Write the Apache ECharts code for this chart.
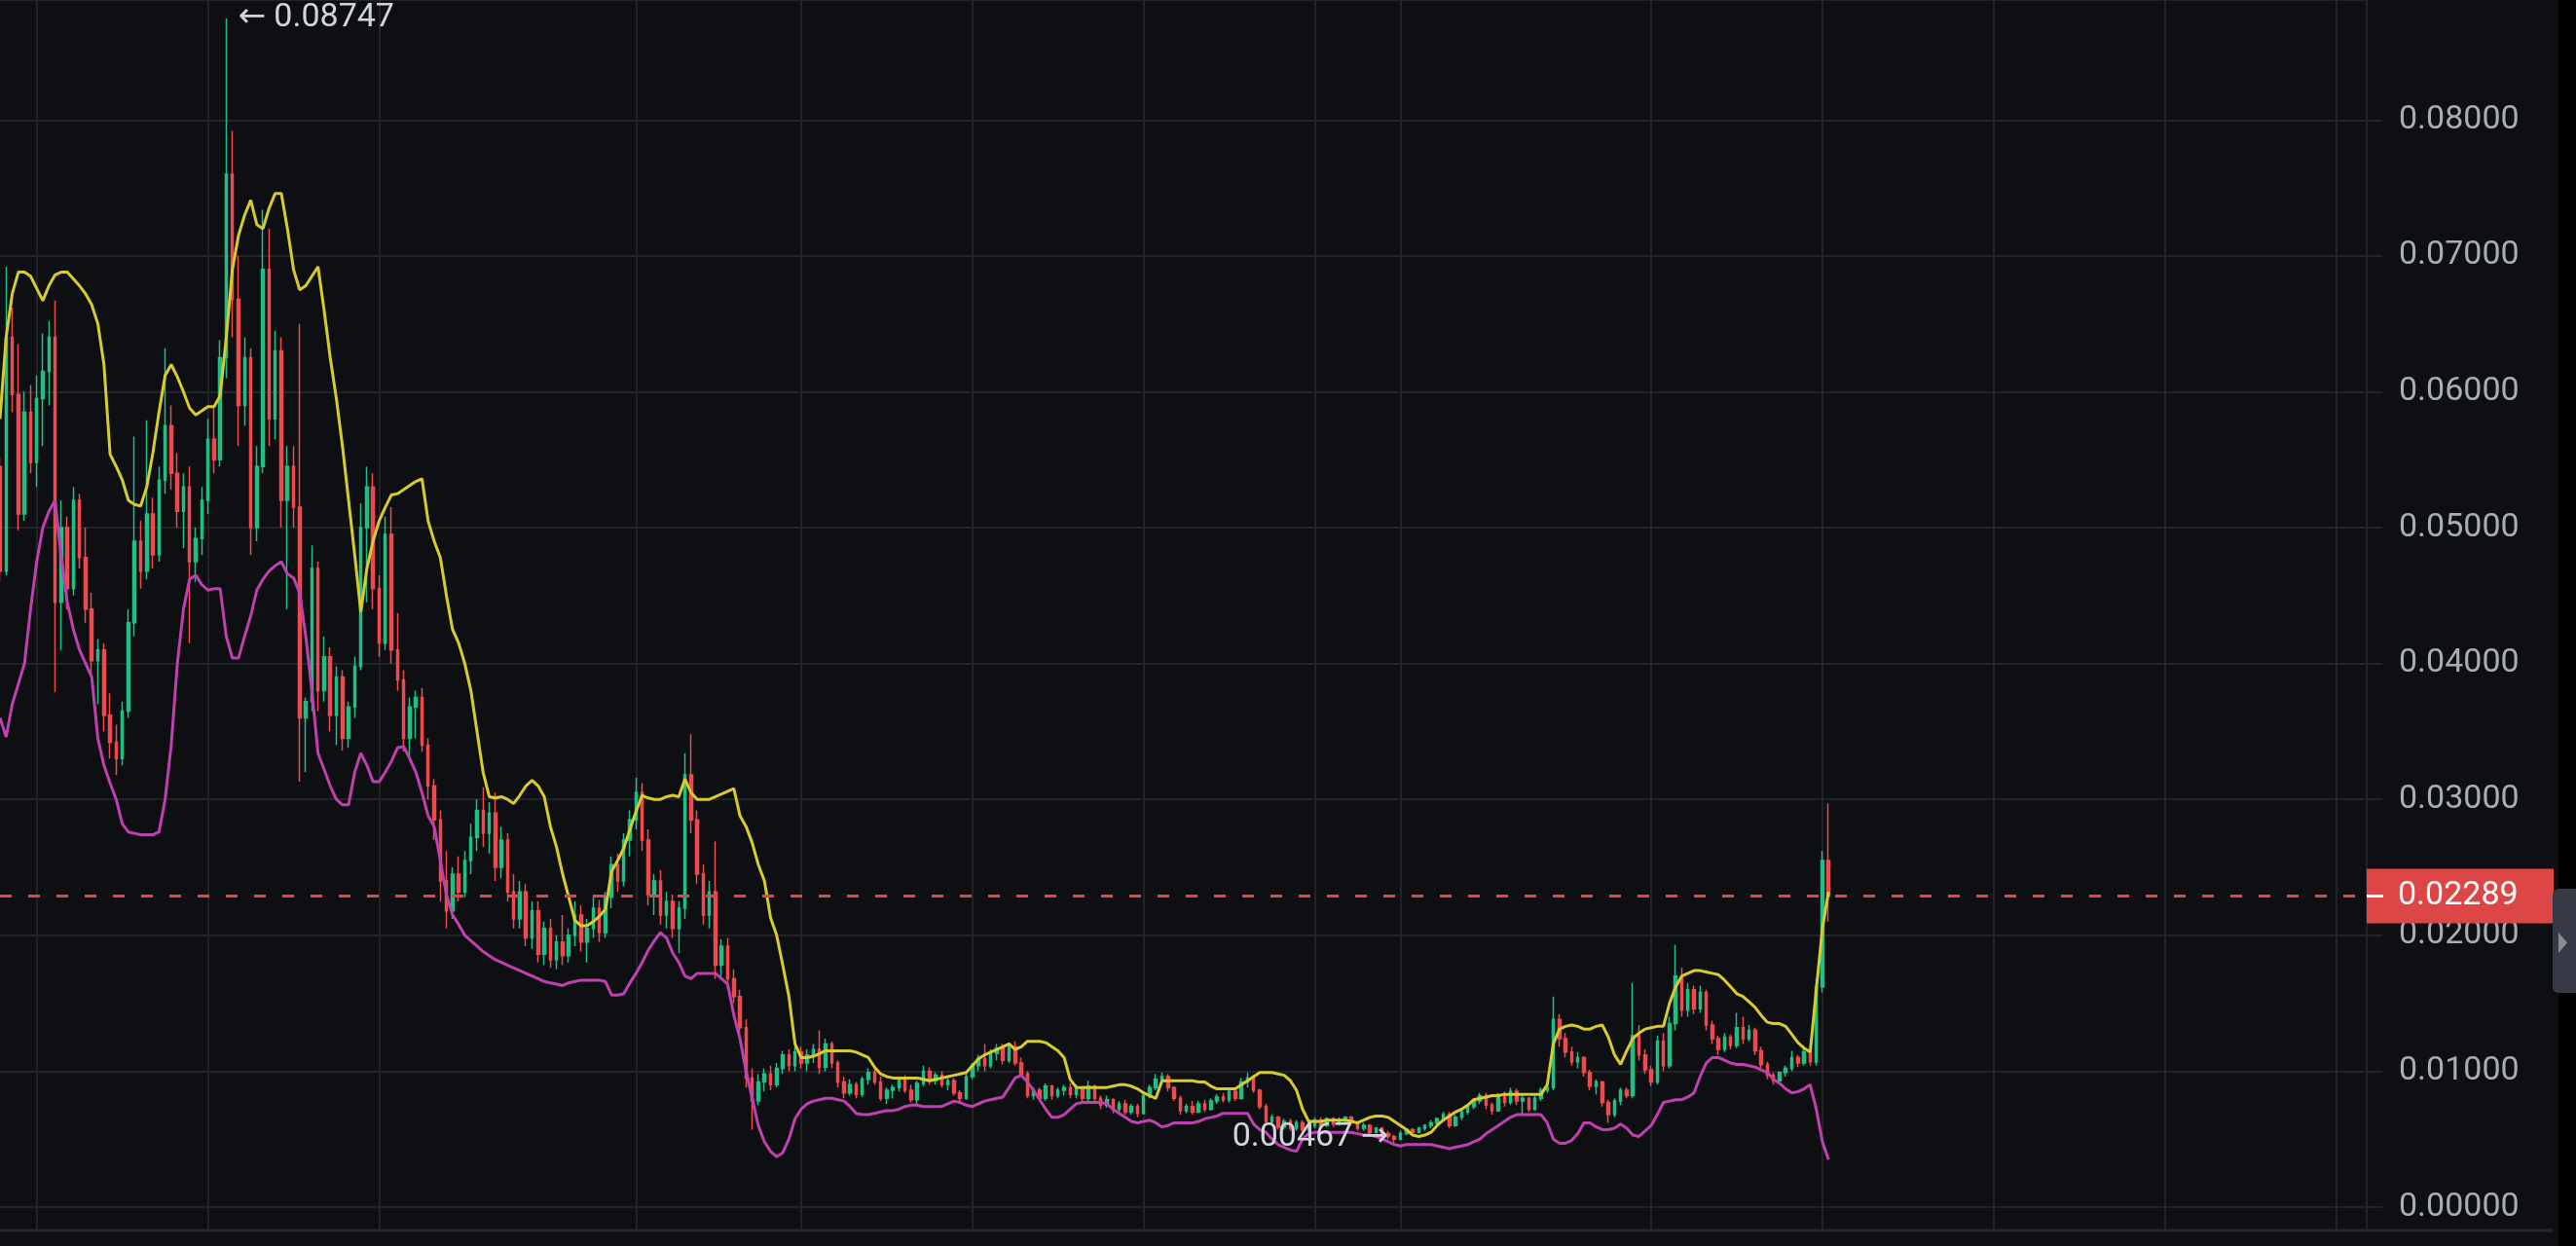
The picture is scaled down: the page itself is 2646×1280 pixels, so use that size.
<!DOCTYPE html>
<html><head><meta charset="utf-8">
<script src="https://cdn.jsdelivr.net/npm/echarts@6/dist/echarts.min.js"></script>
<style>html,body{margin:0;padding:0;background:#0e0f12;overflow:hidden}#c{width:2646px;height:1280px}</style>
</head><body><div id="c"></div><script>
// ---- data (price in quote units) ----
const open = [
.0545,.0468,.0640,.0598,.0510,.0585,.0548,.0595,.0615,.0640,
.0445,.0500,.0455,.0520,.0478,.0440,.0402,.0410,.0362,.0342,
.0330,.0365,.0430,.0490,.0468,.0510,.0480,.0535,.0575,.0540,
.0512,.0530,.0475,.0492,.0520,.0565,.0550,.0625,.0760,.0668,
.0590,.0625,.0500,.0545,.0690,.0580,.0630,.0520,.0545,.0515,
.0360,.0372,.0470,.0380,.0405,.0362,.0390,.0345,.0368,.0398,
.0500,.0530,.0455,.0415,.0495,.0410,.0388,.0345,.0368,.0375,
.0340,.0310,.0285,.0240,.0218,.0245,.0232,.0255,.0272,.0292,
.0275,.0290,.0250,.0270,.0232,.0212,.0232,.0198,.0218,.0186,
.0205,.0182,.0195,.0185,.0200,.0215,.0195,.0205,.0220,.0202,
.0228,.0252,.0240,.0270,.0285,.0305,.0270,.0230,.0240,.0215,
.0225,.0205,.0220,.0318,.0285,.0245,.0215,.0232,.0178,.0192,
.0168,.0155,.0132,.0095,.0078,.0092,.0098,.0090,.0102,.0112,
.0104,.0114,.0106,.0112,.0116,.0103,.0120,.0106,.0092,.0084,
.0090,.0083,.0094,.0099,.0092,.0080,.0086,.0088,.0094,.0086,
.0079,.0091,.0100,.0093,.0097,.0090,.0093,.0084,.0080,.0096,
.0104,.0109,.0104,.0113,.0117,.0108,.0118,.0106,.0098,.0082,
.0086,.0080,.0089,.0082,.0086,.0088,.0083,.0087,.0080,.0089,
.0080,.0075,.0079,.0072,.0076,.0070,.0074,.0069,.0082,.0088,
.0094,.0096,.0088,.0080,.0071,.0074,.0070,.0076,.0072,.0078,
.0081,.0079,.0085,.0080,.0092,.0095,.0086,.0074,.0063,.0066,
.0059,.0063,.0058,.0062,.0057,.0060,.0064,.0060,.0065,.0061,
.0064,.0066,.0062,.0058,.0060,.0055,.0058,.0054,.0052,.0050,
.0054,.0057,.0055,.0058,.0060,.0062,.0065,.0068,.0060,.0066,
.0070,.0074,.0078,.0082,.0075,.0071,.0082,.0077,.0085,.0078,
.0080,.0072,.0080,.0086,.0088,.0138,.0124,.0114,.0107,.0110,
.0099,.0089,.0092,.0077,.0068,.0078,.0086,.0082,.0126,.0112,
.0101,.0092,.0122,.0104,.0135,.0170,.0145,.0160,.0146,.0158,
.0134,.0124,.0116,.0125,.0119,.0132,.0124,.0130,.0115,.0105,
.0097,.0093,.0099,.0102,.0110,.0106,.0114,.0107,.0162,.0255];
const high = [
.0552,.0692,.0662,.0635,.0600,.0605,.0612,.0643,.0652,.0667,
.0520,.0508,.0530,.0525,.0500,.0452,.0418,.0415,.0378,.0355,
.0372,.0440,.0567,.0505,.0579,.0522,.0545,.0632,.0590,.0555,
.0540,.0545,.0500,.0530,.0580,.0590,.0638,.08747,.0792,.0700,
.0640,.0632,.0560,.0734,.0720,.0645,.0640,.0560,.0560,.0650,
.0375,.0487,.0475,.0420,.0412,.0398,.0395,.0372,.0405,.0518,
.0545,.0540,.0465,.0508,.0515,.0437,.0395,.0375,.0380,.0382,
.0345,.0315,.0292,.0262,.0250,.0258,.0262,.0282,.0300,.0309,
.0298,.0305,.0280,.0275,.0245,.0240,.0238,.0225,.0225,.0210,
.0212,.0200,.0215,.0205,.0225,.0222,.0212,.0228,.0226,.0232,
.0258,.0260,.0275,.0292,.0316,.0312,.0278,.0245,.0248,.0232,
.0230,.0225,.0334,.0348,.0292,.0252,.0240,.0269,.0197,.0198,
.0175,.0160,.0138,.0102,.0098,.0102,.0104,.0106,.0115,.0116,
.0118,.0118,.0116,.0120,.0130,.0124,.0122,.0108,.0096,.0094,
.0092,.0096,.0102,.0104,.0096,.0088,.0090,.0096,.0097,.0090,
.0093,.0104,.0103,.0099,.0100,.0095,.0095,.0086,.0098,.0106,
.0112,.0120,.0116,.0120,.0120,.0121,.0122,.0110,.0100,.0088,
.0088,.0091,.0090,.0088,.0090,.0091,.0090,.0089,.0093,.0090,
.0082,.0082,.0080,.0078,.0079,.0076,.0076,.0084,.0090,.0098,
.0099,.0098,.0089,.0082,.0076,.0078,.0078,.0079,.0080,.0083,
.0084,.0087,.0086,.0095,.0099,.0097,.0087,.0076,.0068,.0067,
.0065,.0065,.0064,.0064,.0062,.0066,.0066,.0066,.0066,.0066,
.0067,.0067,.0063,.0062,.0061,.0059,.0059,.0056,.0053,.0056,
.0058,.0058,.0059,.0061,.0064,.0066,.0070,.0070,.0068,.0072,
.0076,.0080,.0084,.0084,.0077,.0084,.0085,.0088,.0087,.0082,
.0081,.0082,.0088,.0090,.0155,.0142,.0128,.0118,.0114,.0111,
.0101,.0094,.0093,.0079,.0080,.0088,.0088,.0165,.0134,.0116,
.0104,.0126,.0128,.0140,.0193,.0176,.0165,.0163,.0163,.0160,
.0137,.0126,.0128,.0127,.0143,.0140,.0134,.0132,.0118,.0107,
.0099,.0100,.0104,.0115,.0112,.0119,.0116,.0168,.0262,.0297];
const low = [
.0460,.0465,.0585,.0498,.0505,.0540,.0530,.0560,.0590,.0379,
.0410,.0440,.0450,.0470,.0430,.0390,.0370,.0350,.0330,.0318,
.0325,.0360,.0420,.0455,.0462,.0470,.0475,.0525,.0528,.0500,
.0485,.0415,.0460,.0480,.0510,.0540,.0545,.0610,.0640,.0560,
.0575,.0480,.0490,.0540,.0560,.0565,.0500,.0440,.0500,.0313,
.0320,.0365,.0365,.0372,.0350,.0340,.0336,.0338,.0360,.0395,
.0445,.0440,.0405,.0410,.0400,.0380,.0335,.0330,.0345,.0335,
.0300,.0270,.0225,.0205,.0212,.0225,.0228,.0245,.0262,.0265,
.0260,.0240,.0242,.0225,.0205,.0205,.0192,.0190,.0180,.0178,
.0176,.0175,.0178,.0180,.0192,.0188,.0180,.0198,.0195,.0198,
.0220,.0232,.0236,.0258,.0278,.0262,.0222,.0215,.0208,.0205,
.0198,.0187,.0212,.0275,.0238,.0208,.0205,.0168,.0168,.0160,
.0150,.0125,.0088,.0057,.0075,.0085,.0086,.0088,.0098,.0100,
.0100,.0102,.0100,.0106,.0098,.0100,.0102,.0088,.0080,.0082,
.0080,.0081,.0090,.0090,.0078,.0076,.0080,.0085,.0084,.0077,
.0076,.0089,.0090,.0090,.0088,.0086,.0082,.0076,.0079,.0094,
.0100,.0100,.0102,.0108,.0105,.0106,.0104,.0096,.0080,.0079,
.0078,.0078,.0079,.0080,.0082,.0080,.0080,.0078,.0078,.0078,
.0072,.0073,.0069,.0070,.0068,.0068,.0066,.0068,.0080,.0086,
.0090,.0085,.0078,.0068,.0069,.0068,.0069,.0070,.0071,.0076,
.0077,.0077,.0078,.0079,.0088,.0084,.0072,.0060,.0060,.0057,
.0057,.0056,.0056,.0055,.0054,.0058,.0058,.0059,.0059,.0060,
.0062,.0060,.0056,.0056,.0053,.0054,.0052,.0050,.00467,.0049,
.0053,.0053,.0054,.0056,.0058,.0060,.0063,.0058,.0059,.0064,
.0068,.0072,.0076,.0072,.0068,.0070,.0074,.0075,.0075,.0068,
.0070,.0071,.0078,.0084,.0086,.0118,.0110,.0104,.0102,.0096,
.0086,.0083,.0074,.0062,.0066,.0075,.0080,.0080,.0108,.0098,
.0089,.0090,.0100,.0102,.0130,.0140,.0140,.0142,.0143,.0130,
.0120,.0112,.0114,.0116,.0117,.0120,.0122,.0112,.0102,.0094,
.0090,.0092,.0096,.0100,.0103,.0104,.0104,.0104,.0158,.0210];
const close = [
.0468,.0640,.0598,.0510,.0585,.0548,.0595,.0615,.0640,.0445,
.0500,.0455,.0520,.0478,.0440,.0402,.0410,.0362,.0342,.0330,
.0365,.0430,.0490,.0468,.0510,.0480,.0535,.0575,.0540,.0512,
.0530,.0475,.0492,.0520,.0565,.0550,.0625,.0760,.0668,.0590,
.0625,.0500,.0545,.0690,.0580,.0630,.0520,.0545,.0515,.0360,
.0372,.0470,.0380,.0405,.0362,.0390,.0345,.0368,.0398,.0500,
.0530,.0455,.0415,.0495,.0410,.0388,.0345,.0368,.0375,.0340,
.0310,.0285,.0240,.0218,.0245,.0232,.0255,.0272,.0292,.0275,
.0290,.0250,.0270,.0232,.0212,.0232,.0198,.0218,.0186,.0205,
.0182,.0195,.0185,.0200,.0215,.0195,.0205,.0220,.0202,.0228,
.0252,.0240,.0270,.0285,.0305,.0270,.0230,.0240,.0215,.0225,
.0205,.0220,.0318,.0285,.0245,.0215,.0232,.0178,.0192,.0168,
.0155,.0132,.0095,.0078,.0092,.0098,.0090,.0102,.0112,.0104,
.0114,.0106,.0112,.0116,.0103,.0120,.0106,.0092,.0084,.0090,
.0083,.0094,.0099,.0092,.0080,.0086,.0088,.0094,.0086,.0079,
.0091,.0100,.0093,.0097,.0090,.0093,.0084,.0080,.0096,.0104,
.0109,.0104,.0113,.0117,.0108,.0118,.0106,.0098,.0082,.0086,
.0080,.0089,.0082,.0086,.0088,.0083,.0087,.0080,.0089,.0080,
.0075,.0079,.0072,.0076,.0070,.0074,.0069,.0082,.0088,.0094,
.0096,.0088,.0080,.0071,.0074,.0070,.0076,.0072,.0078,.0081,
.0079,.0085,.0080,.0092,.0095,.0086,.0074,.0063,.0066,.0059,
.0063,.0058,.0062,.0057,.0060,.0064,.0060,.0065,.0061,.0064,
.0066,.0062,.0058,.0060,.0055,.0058,.0054,.0052,.0050,.0054,
.0057,.0055,.0058,.0060,.0062,.0065,.0068,.0060,.0066,.0070,
.0074,.0078,.0082,.0075,.0071,.0082,.0077,.0085,.0078,.0080,
.0072,.0080,.0086,.0088,.0138,.0124,.0114,.0107,.0110,.0099,
.0089,.0092,.0077,.0068,.0078,.0086,.0082,.0126,.0112,.0101,
.0092,.0122,.0104,.0135,.0170,.0145,.0160,.0146,.0158,.0134,
.0124,.0116,.0125,.0119,.0132,.0124,.0130,.0115,.0105,.0097,
.0093,.0099,.0102,.0110,.0106,.0114,.0107,.0162,.0255,.02289];
const upperBand = [
.0580,.0640,.0672,.0688,.0688,.0685,.0676,.0667,.0678,.0686,
.0688,.0688,.0683,.0678,.0672,.0664,.0650,.0620,.0554,.0545,
.0535,.0520,.0517,.0516,.0530,.0555,.0585,.0612,.0620,.0611,
.0600,.0588,.0583,.0586,.0589,.0589,.0597,.0640,.0690,.0715,
.0730,.0741,.0723,.0720,.0735,.0746,.0746,.0720,.0690,.0675,
.0678,.0685,.0692,.0660,.0625,.0595,.0560,.0520,.0480,.0438,
.0470,.0490,.0505,.0515,.0524,.0525,.0528,.0531,.0534,.0536,
.0505,.0490,.0478,.0450,.0425,.0415,.0400,.0380,.0350,.0320,
.0302,.0301,.0302,.0300,.0297,.0303,.0310,.0314,.0310,.0302,
.0280,.0265,.0245,.0228,.0211,.0207,.0207,.0210,.0214,.0219,
.0247,.0255,.0264,.0278,.0291,.0303,.0301,.0300,.0300,.0302,
.0303,.0302,.0315,.0305,.0300,.0300,.0300,.0302,.0304,.0306,
.0308,.0288,.0280,.0268,.0252,.0240,.0213,.0200,.0178,.0155,
.0120,.0110,.0110,.0111,.0113,.0115,.0115,.0115,.0115,.0115,
.0114,.0112,.0110,.0103,.0098,.0096,.0095,.0095,.0095,.0095,
.0095,.0094,.0093,.0094,.0095,.0096,.0097,.0098,.0099,.0104,
.0109,.0112,.0114,.0116,.0118,.0120,.0116,.0118,.0122,.0122,
.0122,.0121,.0118,.0115,.0110,.0094,.0088,.0088,.0088,.0088,
.0088,.0088,.0089,.0090,.0090,.0089,.0087,.0084,.0082,.0080,
.0093,.0093,.0093,.0093,.0093,.0093,.0092,.0092,.0089,.0087,
.0087,.0087,.0087,.0090,.0093,.0096,.0099,.0099,.0099,.0098,
.0097,.0093,.0086,.0072,.0063,.0063,.0063,.0064,.0064,.0064,
.0064,.0063,.0062,.0064,.0066,.0067,.0067,.0066,.0063,.0060,
.0057,.0053,.0052,.0053,.0055,.0060,.0064,.0067,.0070,.0072,
.0075,.0079,.0080,.0081,.0082,.0082,.0083,.0083,.0083,.0083,
.0083,.0083,.0083,.0090,.0120,.0131,.0133,.0134,.0133,.0131,
.0131,.0133,.0134,.0125,.0112,.0105,.0115,.0124,.0128,.0131,
.0132,.0133,.0133,.0150,.0162,.0170,.0172,.0174,.0174,.0173,
.0172,.0171,.0167,.0162,.0157,.0155,.0151,.0147,.0141,.0136,
.0135,.0135,.0133,.0127,.0121,.0117,.0114,.0160,.0205,.0232];
const lowerBand = [
.0360,.0346,.0370,.0385,.0400,.0440,.0475,.0500,.0512,.0520,
.0479,.0445,.0425,.0410,.0400,.0390,.0345,.0325,.0312,.0300,
.0282,.0276,.0275,.0274,.0274,.0274,.0276,.0300,.0340,.0400,
.0440,.0462,.0465,.0458,.0454,.0455,.0455,.0420,.0404,.0404,
.0420,.0435,.0454,.0462,.0468,.0472,.0475,.0466,.0463,.0452,
.0420,.0380,.0334,.0322,.0310,.0300,.0296,.0296,.0320,.0334,
.0325,.0313,.0313,.0320,.0328,.0338,.0339,.0330,.0320,.0305,
.0288,.0280,.0255,.0230,.0215,.0208,.0200,.0196,.0192,.0188,
.0185,.0182,.0180,.0178,.0176,.0174,.0172,.0170,.0168,.0166,
.0165,.0164,.0163,.0165,.0166,.0167,.0167,.0167,.0167,.0166,
.0156,.0156,.0157,.0165,.0172,.0180,.0189,.0196,.0202,.0198,
.0187,.0180,.0170,.0168,.0172,.0172,.0172,.0172,.0168,.0164,
.0141,.0124,.0100,.0080,.0060,.0048,.0041,.0037,.0040,.0050,
.0065,.0072,.0076,.0078,.0079,.0080,.0080,.0079,.0078,.0074,
.0069,.0068,.0068,.0069,.0070,.0071,.0071,.0072,.0074,.0075,
.0075,.0074,.0074,.0074,.0074,.0076,.0078,.0077,.0075,.0074,
.0076,.0078,.0079,.0080,.0081,.0088,.0095,.0097,.0092,.0086,
.0079,.0072,.0066,.0066,.0068,.0072,.0076,.0077,.0077,.0077,
.0077,.0076,.0072,.0069,.0066,.0063,.0062,.0063,.0064,.0062,
.0059,.0060,.0062,.0062,.0062,.0062,.0063,.0065,.0066,.0067,
.0069,.0069,.0069,.0069,.0069,.0061,.0057,.0055,.0050,.0046,
.0044,.0042,.0041,.0050,.0054,.0055,.0055,.0055,.0055,.0055,
.0055,.0055,.0054,.0053,.0053,.0052,.0050,.0048,.0046,.0045,
.0046,.0046,.0046,.0046,.0046,.0045,.0044,.0043,.0044,.0045,
.0046,.0048,.0050,.0054,.0057,.0060,.0063,.0066,.0068,.0068,
.0068,.0068,.0068,.0062,.0050,.0047,.0047,.0049,.0054,.0062,
.0062,.0059,.0057,.0057,.0058,.0061,.0058,.0053,.0052,.0056,
.0060,.0068,.0077,.0078,.0079,.0079,.0081,.0084,.0096,.0106,
.0110,.0110,.0108,.0106,.0105,.0105,.0104,.0103,.0101,.0099,
.0094,.0091,.0087,.0084,.0085,.0087,.0090,.0072,.0048,.0035];
// time slots on the x axis (last part is empty future space)
const slotCount = 388;
const slots = Array.from({length: slotCount}, (_, k) => String(k));
// slots where the time grid lines fall
const timeGridSlots = [6, 34, 62, 104, 131, 159, 187, 215, 229, 270, 298, 326, 354, 382];

// ---- styles ----
const BG = '#0e0f12', GRID = '#212328', AXT = '#a9acb5';
const UP = '#1fbf85', DOWN = '#ef4a4d';
const FONT = 'Roboto, "DejaVu Sans", sans-serif';

const candles = close.map((c, i) => [open[i], c, low[i], high[i]]);
let maxIdx = 0; high.forEach((h, i) => { if (h > high[maxIdx]) maxIdx = i; });
let minIdx = 0; low.forEach((l, i) => { if (l < low[minIdx]) minIdx = i; });
const last = close[close.length - 1];

const chart = echarts.init(document.getElementById('c'), null, {renderer: 'canvas'});
const splitFn = (i) => timeGridSlots.indexOf(i) >= 0;
const xBase = {
  type: 'category', data: slots, boundaryGap: false,
  axisLine: {show: false}, axisTick: {show: false}, axisLabel: {show: false},
  splitLine: {show: true, interval: splitFn, lineStyle: {color: GRID, width: 2}}
};
chart.setOption({
  backgroundColor: BG,
  animation: false,
  grid: [
    {left: 0, top: 0, width: 2431, height: 1240},
    {left: 0, top: 1240, width: 2431, height: 24}
  ],
  xAxis: [Object.assign({gridIndex: 0}, xBase), Object.assign({gridIndex: 1}, xBase)],
  yAxis: [
    {type: 'value', gridIndex: 0, position: 'right', min: 0, max: 0.08883, interval: 0.01,
     axisLine: {show: false},
     axisTick: {show: true, length: 16, lineStyle: {color: GRID, width: 2}},
     splitLine: {show: true, lineStyle: {color: GRID, width: 2}},
     axisLabel: {margin: 33, color: AXT, fontFamily: FONT, fontSize: 34, showMaxLabel: false,
       formatter: v => v.toFixed(5)}},
    {type: 'value', gridIndex: 1, min: 0, max: 1, show: false}
  ],
  series: [
    {type: 'candlestick', xAxisIndex: 0, yAxisIndex: 0, data: candles, barWidth: 3,
     itemStyle: {color: UP, color0: DOWN, borderColor: UP, borderColor0: DOWN, borderWidth: 1.5},
     markLine: {symbol: 'none', silent: true, animation: false, precision: 10, label: {show: false},
       lineStyle: {color: '#e0474c', type: [12, 17], width: 3},
       data: [{yAxis: last}]},
     markPoint: {symbol: 'circle', symbolSize: 0, silent: true, animation: false,
       label: {show: true, color: '#d1d4dc', fontFamily: FONT, fontSize: 34},
       data: [
         {coord: [slots[maxIdx], high[maxIdx]], value: high[maxIdx],
          label: {position: 'right', distance: 12, formatter: '\u2190 ' + high[maxIdx].toFixed(5)}},
         {coord: [slots[minIdx], low[minIdx]], value: low[minIdx],
          label: {position: 'left', distance: 6, offset: [0, -6], formatter: low[minIdx].toFixed(5) + ' \u2192'}}
       ]}
    },
    {type: 'line', xAxisIndex: 0, yAxisIndex: 0, data: upperBand, symbol: 'none', silent: true,
     lineStyle: {color: '#d8cc2c', width: 3}, z: 3},
    {type: 'line', xAxisIndex: 0, yAxisIndex: 0, data: lowerBand, symbol: 'none', silent: true,
     lineStyle: {color: '#c040b0', width: 3}, z: 3}
  ]
});

const py = chart.convertToPixel({yAxisIndex: 0}, last);
chart.setOption({
  graphic: [
    {type: 'line', z: 50, shape: {x1: 2431, y1: 0, x2: 2431, y2: 1264}, style: {stroke: GRID, lineWidth: 2}},
    {type: 'line', z: 50, shape: {x1: 0, y1: 1264, x2: 2622, y2: 1264}, style: {stroke: '#25272c', lineWidth: 3}},
    {type: 'rect', z: 100, shape: {x: 2431, y: py - 28, width: 192, height: 56}, style: {fill: '#dd4646'}},
    {type: 'line', z: 101, shape: {x1: 2431, y1: py, x2: 2448, y2: py}, style: {stroke: '#ffffff', lineWidth: 3}},
    {type: 'text', z: 101, x: 2463, y: py,
     style: {text: last.toFixed(5), fill: '#ffffff', fontFamily: FONT, fontSize: 34, verticalAlign: 'middle', align: 'left'}},
    {type: 'rect', z: 100, shape: {x: 2628, y: 0, width: 18, height: 1280}, style: {fill: '#000000'}},
    {type: 'rect', z: 102, shape: {x: 2622, y: 913, width: 30, height: 107, r: 6}, style: {fill: '#363a45'}},
    {type: 'polygon', z: 103, shape: {points: [[2628, 958], [2637, 968.5], [2628, 979]]}, style: {fill: '#878b94'}}
  ]
});
</script></body></html>
